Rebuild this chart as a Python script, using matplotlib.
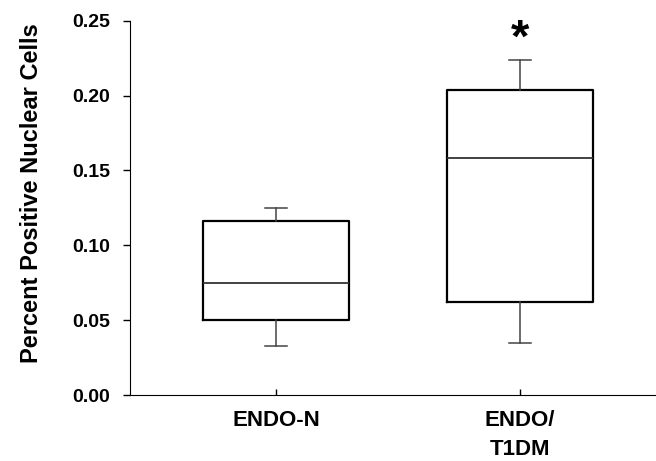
import matplotlib
matplotlib.use("Agg")
import matplotlib.pyplot as plt

plt.rcParams['font.family'] = ['Liberation Sans', 'DejaVu Sans']
plt.rcParams['font.weight'] = 'bold'

# box plot summary values
groups = ['ENDO-N', 'ENDO/\nT1DM']
whislo = [0.033, 0.035]
q1 = [0.050, 0.062]
med = [0.075, 0.158]
q3 = [0.116, 0.204]
whishi = [0.125, 0.224]

stats = []
for i in range(len(groups)):
    stats.append(dict(whislo=whislo[i], q1=q1[i], med=med[i], q3=q3[i],
                      whishi=whishi[i], fliers=[], label=groups[i]))

fig = plt.figure(figsize=(6.56, 4.61), dpi=100)
ax = fig.add_axes([0.198, 0.143, 0.802, 0.812])

ax.bxp(stats, positions=[1, 2], widths=0.6, showfliers=False,
       boxprops=dict(color='black', linewidth=1.6),
       whiskerprops=dict(color='#444444', linewidth=1.1),
       capprops=dict(color='#444444', linewidth=1.1),
       medianprops=dict(color='#333333', linewidth=1.3),
       capwidths=0.09)

ax.text(2, 0.237, '*', ha='center', va='center', fontsize=34, fontweight='bold')

ax.set_xlim(0.4, 2.56)
ax.set_ylim(0, 0.25)
ax.set_yticks([0, 0.05, 0.10, 0.15, 0.20, 0.25])
ax.set_yticklabels(['0.00', '0.05', '0.10', '0.15', '0.20', '0.25'])
ax.spines['top'].set_visible(False)
ax.spines['right'].set_visible(False)
ax.tick_params(axis='y', direction='out', length=5, width=1, labelsize=14, pad=9)
ax.tick_params(axis='x', direction='in', length=4, width=1, labelsize=16, pad=11)
for lab in ax.get_xticklabels():
    lab.set_linespacing(1.5)
ax.set_ylabel('Percent Positive Nuclear Cells', fontsize=17, fontweight='bold')
ax.yaxis.set_label_coords(-0.165, 0.54)

fig.savefig('out.png', dpi=100)
